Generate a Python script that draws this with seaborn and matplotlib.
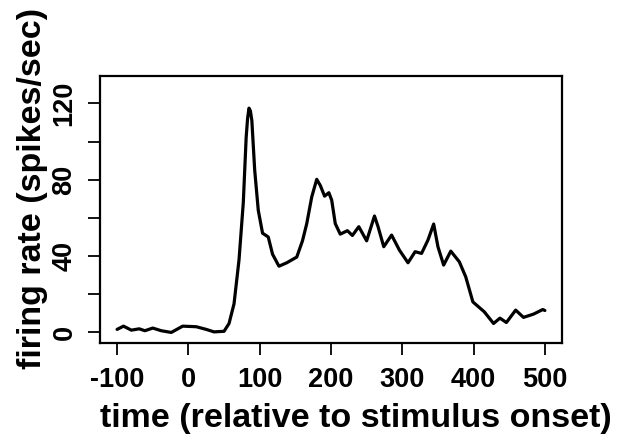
import matplotlib
matplotlib.use("Agg")
import matplotlib.pyplot as plt
import seaborn as sns
import pandas as pd

# PSTH values (time in ms, rate in spikes/sec)
time_ms = [-100, -91, -80, -69, -61, -50, -38, -24, -8, 11, 25, 36, 50, 57, 64, 71,
           77, 81, 83, 85, 87, 89, 93, 98, 104, 112, 118, 127, 138, 152, 160, 166, 173, 180,
           185, 191, 197, 201, 206, 213, 223, 230, 239, 250, 261, 266, 274, 285, 296,
           308, 318, 327, 336, 344, 350, 358, 368, 380, 389, 399, 415, 428, 437, 446,
           459, 470, 484, 497, 500]
rate = [1.6, 3.3, 1.2, 1.9, 0.9, 2.3, 0.9, 0.0, 3.3, 3.0, 1.6, 0.3, 0.6, 4.7, 15, 38,
        68, 102, 112, 117.5, 116, 111, 85, 64, 52, 50, 41, 34.7, 36.5, 39.5, 48, 57, 71, 80.2,
        77, 71.4, 73.2, 69.3, 57, 51.5, 53.3, 50.8, 55.4, 48, 61, 55.4, 44.9, 51, 43.1,
        36.5, 42.3, 41.4, 48.4, 56.8, 44.9, 35.3, 42.6, 37, 29.1, 16, 10.8, 4.7, 7.5, 5.2,
        11.7, 7.9, 9.6, 12, 11.5]

x_ticks = [-100, 0, 100, 200, 300, 400, 500]
y_ticks = [0, 20, 40, 60, 80, 100, 120]
y_tick_labels = ["0", "", "40", "", "80", "", "120"]

df = pd.DataFrame({"time": time_ms, "rate": rate})

sns.set_style("white")
plt.rcParams["font.family"] = ["Liberation Sans", "DejaVu Sans"]
plt.rcParams["font.weight"] = "bold"
plt.rcParams["text.color"] = "black"

fig = plt.figure(figsize=(6.21, 4.4), dpi=100)
ax = fig.add_axes([0.161, 0.221, 0.744, 0.607])

sns.lineplot(data=df, x="time", y="rate", ax=ax, color="black", linewidth=2.3)
for line in ax.get_lines():
    line.set_solid_joinstyle("round")
    line.set_solid_capstyle("round")

ax.set_xlim(-124, 524)
ax.set_ylim(-5.4, 134.5)
ax.set_xticks(x_ticks)
ax.set_xticklabels([str(t) for t in x_ticks], fontsize=19.5, fontweight="bold", color="black")
ax.set_yticks(y_ticks)
ax.set_yticklabels(y_tick_labels, fontsize=19.5, fontweight="bold", rotation=90,
                   va="center", color="black")

for s in ax.spines.values():
    s.set_linewidth(1.6)
    s.set_color("black")
ax.tick_params(axis="both", direction="out", length=8.6, width=1.3, color="black",
               bottom=True, left=True)
ax.tick_params(axis="x", pad=9)
ax.tick_params(axis="y", pad=7.5)

ax.set_xlabel("time (relative to stimulus onset)", fontsize=24.5, fontweight="bold",
              color="black")
ax.set_ylabel("firing rate (spikes/sec)", fontsize=24.5, fontweight="bold", color="black")
ax.xaxis.set_label_coords(0.554, -0.226)
ax.yaxis.set_label_coords(-0.112, 0.576)

fig.savefig("out.png", dpi=100)
